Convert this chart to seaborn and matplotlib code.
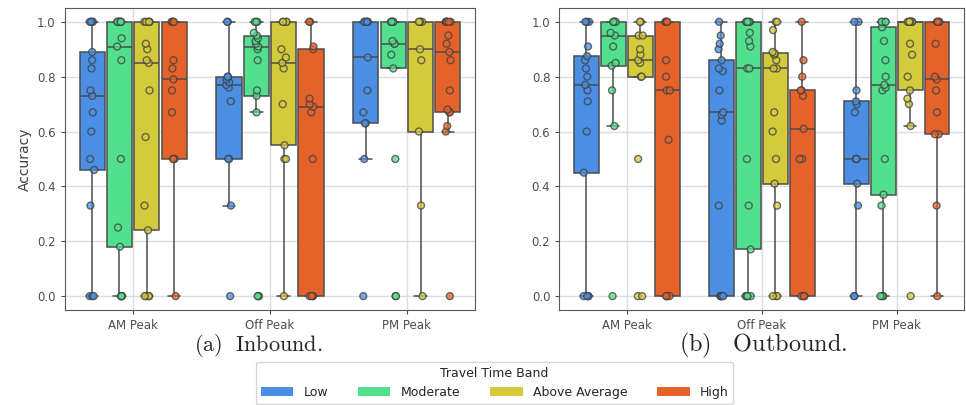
import matplotlib
matplotlib.use("Agg")
import matplotlib.pyplot as plt
from matplotlib.patches import Patch
import pandas as pd
import seaborn as sns


PERIODS = ["AM Peak", "Off Peak", "PM Peak"]
BANDS = ["Low", "Moderate", "Above Average", "High"]
COLORS = ["#4a8fe3", "#52e08e", "#d4cb3c", "#e6622b"]

# per-trip accuracy values, inbound
INBOUND_AM = {
    "Low": [0, 0, 0, 0.33, 0.46, 0.5, 0.6, 0.67, 0.73, 0.75, 0.83, 0.86, 0.89, 1, 1, 1, 1],
    "Moderate": [0, 0, 0, 0, 0.18, 0.25, 0.5, 0.86, 0.91, 0.94, 1, 1, 1, 1, 1, 1, 1],
    "Above Average": [0, 0, 0, 0, 0.24, 0.33, 0.58, 0.75, 0.85, 0.86, 0.9, 0.92, 1, 1, 1, 1, 1],
    "High": [0, 0.5, 0.5, 0.5, 0.67, 0.75, 0.79, 0.83, 0.86, 1, 1, 1, 1],
}
INBOUND_OFF = {
    "Low": [0, 0.33, 0.5, 0.5, 0.71, 0.76, 0.77, 0.78, 0.79, 0.8, 0.8, 1, 1],
    "Moderate": [0, 0, 0, 0.67, 0.73, 0.75, 0.86, 0.9, 0.91, 0.92, 0.93, 0.94, 0.95, 0.96, 1, 1, 1],
    "Above Average": [0, 0.5, 0.5, 0.55, 0.7, 0.83, 0.85, 0.87, 0.9, 1, 1, 1, 1],
    "High": [0, 0, 0, 0, 0.5, 0.67, 0.69, 0.7, 0.72, 0.9, 0.91, 1, 1],
}
INBOUND_PM = {
    "Low": [0, 0.5, 0.63, 0.63, 0.67, 0.75, 0.87, 1, 1, 1, 1, 1, 1],
    "Moderate": [0, 0, 0.5, 0.83, 0.88, 0.92, 0.92, 0.93, 1, 1, 1, 1, 1],
    "Above Average": [0, 0.33, 0.6, 0.86, 0.9, 1, 1, 1, 1],
    "High": [0, 0.6, 0.62, 0.67, 0.67, 0.68, 0.75, 0.86, 0.89, 0.92, 0.95, 1, 1, 1, 1, 1, 1],
}

# per-trip accuracy values, outbound
OUTBOUND_AM = {
    "Low": [0, 0, 0, 0, 0.45, 0.6, 0.71, 0.75, 0.77, 0.8, 0.83, 0.86, 0.875, 0.91, 1, 1, 1],
    "Moderate": [0, 0.62, 0.75, 0.84, 0.85, 0.91, 0.95, 0.96, 1, 1, 1, 1, 1],
    "Above Average": [0, 0, 0.5, 0.8, 0.8, 0.85, 0.86, 0.88, 0.9, 0.95, 0.95, 1, 1],
    "High": [0, 0, 0, 0, 0.57, 0.75, 0.75, 0.8, 0.86, 1, 1, 1, 1],
}
OUTBOUND_OFF = {
    "Low": [0, 0, 0, 0, 0, 0.33, 0.64, 0.66, 0.67, 0.75, 0.82, 0.83, 0.86, 0.9, 0.92, 0.95, 1],
    "Moderate": [0, 0, 0, 0, 0.17, 0.33, 0.5, 0.83, 0.83, 0.91, 0.93, 0.96, 1, 1, 1, 1, 1],
    "Above Average": [0, 0, 0, 0.33, 0.41, 0.5, 0.6, 0.67, 0.83, 0.83, 0.86, 0.88, 0.885, 0.89, 0.97, 1, 1],
    "High": [0, 0, 0, 0, 0.5, 0.5, 0.61, 0.73, 0.75, 0.75, 0.8, 0.86, 1],
}
OUTBOUND_PM = {
    "Low": [0, 0, 0.33, 0.41, 0.5, 0.5, 0.5, 0.67, 0.7, 0.71, 0.75, 1, 1],
    "Moderate": [0, 0, 0, 0.33, 0.37, 0.5, 0.75, 0.76, 0.77, 0.8, 0.86, 0.93, 0.98, 1, 1, 1, 1],
    "Above Average": [0, 0.62, 0.7, 0.72, 0.75, 0.8, 0.88, 0.92, 1, 1, 1, 1, 1, 1, 1, 1, 1],
    "High": [0, 0.33, 0.59, 0.59, 0.67, 0.75, 0.79, 0.8, 0.92, 1, 1, 1, 1],
}


def to_frame(groups: dict) -> pd.DataFrame:
    rows = []
    for period, bands in groups.items():
        for band, values in bands.items():
            for v in values:
                rows.append({"period": period, "band": band, "accuracy": v})
    return pd.DataFrame(rows)


def draw_panel(ax, data: pd.DataFrame) -> None:
    palette = dict(zip(BANDS, COLORS))
    sns.boxplot(
        data=data, x="period", y="accuracy", hue="band",
        order=PERIODS, hue_order=BANDS, palette=palette,
        saturation=1, gap=0.08, showfliers=False,
        linecolor="0.3", linewidth=1.1, legend=False, ax=ax,
    )
    sns.stripplot(
        data=data, x="period", y="accuracy", hue="band",
        order=PERIODS, hue_order=BANDS, palette=palette,
        dodge=True, jitter=0.08, size=5, linewidth=1,
        edgecolor="0.25", alpha=0.75, legend=False, ax=ax,
    )
    ax.set_ylim(-0.05, 1.05)
    ax.set_xlabel("")
    ax.grid(True, color="#dddddd", linewidth=1)
    ax.set_axisbelow(True)
    ax.tick_params(labelsize=8.5, colors="0.3", length=3)


def main() -> None:
    sns.set_style("whitegrid", {
        "xtick.bottom": True, "ytick.left": True,
        "axes.edgecolor": "0.35",
    })
    plt.rcParams["mathtext.fontset"] = "cm"

    inbound = to_frame({"AM Peak": INBOUND_AM, "Off Peak": INBOUND_OFF, "PM Peak": INBOUND_PM})
    outbound = to_frame({"AM Peak": OUTBOUND_AM, "Off Peak": OUTBOUND_OFF, "PM Peak": OUTBOUND_PM})

    fig = plt.figure(figsize=(9.66, 4.05), dpi=100)
    ax1 = fig.add_axes([0.067, 0.235, 0.425, 0.745])
    ax2 = fig.add_axes([0.579, 0.235, 0.419, 0.745])

    draw_panel(ax1, inbound)
    draw_panel(ax2, outbound)
    ax1.set_ylabel("Accuracy", fontsize=10, color="0.25")
    ax2.set_ylabel("")

    fig.text(0.267, 0.146, r"$\mathrm{(a)\ \ Inbound.}$", ha="center", va="center", fontsize=16)
    fig.text(0.79, 0.146, r"$\mathrm{(b)\ \ \ Outbound.}$", ha="center", va="center", fontsize=17.5)

    handles = [Patch(facecolor=c, edgecolor="none") for c in COLORS]
    fig.legend(
        handles, BANDS, title="Travel Time Band", loc="upper center",
        bbox_to_anchor=(0.512, 0.122), ncol=4, fontsize=9, title_fontsize=9,
        frameon=True, handlelength=2.6, columnspacing=2.4, borderpad=0.4,
    )

    fig.savefig("out.png", dpi=100)
    plt.close(fig)


if __name__ == "__main__":
    main()
